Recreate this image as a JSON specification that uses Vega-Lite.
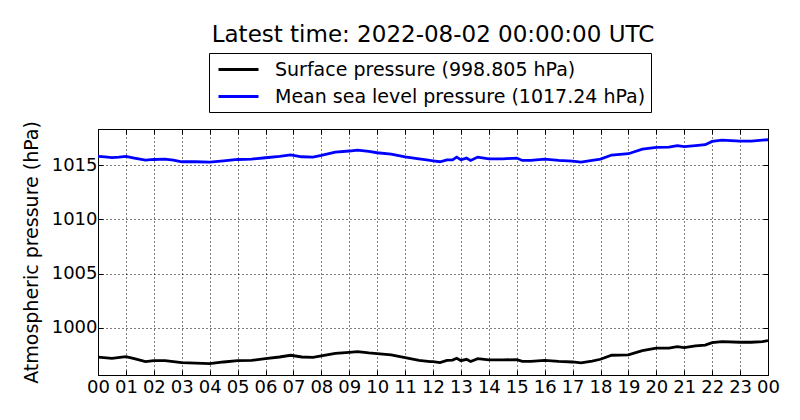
{
  "$schema": "https://vega.github.io/schema/vega-lite/v6.json",
  "autosize": {"type": "none"},
  "padding": {"left": 98, "top": 129, "right": 32, "bottom": 45},
  "width": 670,
  "height": 246,
  "background": "white",
  "title": {
    "text": "Latest time: 2022-08-02 00:00:00 UTC",
    "font": "DejaVu Sans",
    "fontSize": 23,
    "fontWeight": "normal",
    "color": "black",
    "anchor": "middle",
    "offset": 6
  },
  "config": {
    "view": {"stroke": "black", "strokeWidth": 1},
    "axis": {
      "labelFont": "DejaVu Sans",
      "labelFontSize": 18,
      "labelColor": "black",
      "titleFont": "DejaVu Sans",
      "titleFontSize": 19,
      "titleFontWeight": "normal",
      "titleColor": "black",
      "domainColor": "black",
      "tickColor": "black",
      "tickSize": -5,
      "gridColor": "black",
      "gridOpacity": 1,
      "gridDash": [1, 3],
      "gridWidth": 1
    }
  },
  "data": {
    "values": [
      {"h": 0, "s": "msl", "p": 1015.80},
      {"h": 0.25, "s": "msl", "p": 1015.76},
      {"h": 0.5, "s": "msl", "p": 1015.70},
      {"h": 0.75, "s": "msl", "p": 1015.74},
      {"h": 1.0, "s": "msl", "p": 1015.80},
      {"h": 1.3, "s": "msl", "p": 1015.65},
      {"h": 1.7, "s": "msl", "p": 1015.46},
      {"h": 2.0, "s": "msl", "p": 1015.52},
      {"h": 2.4, "s": "msl", "p": 1015.55},
      {"h": 2.7, "s": "msl", "p": 1015.46},
      {"h": 3.0, "s": "msl", "p": 1015.31},
      {"h": 3.5, "s": "msl", "p": 1015.31},
      {"h": 4.0, "s": "msl", "p": 1015.28},
      {"h": 4.5, "s": "msl", "p": 1015.40},
      {"h": 5.0, "s": "msl", "p": 1015.52},
      {"h": 5.5, "s": "msl", "p": 1015.55},
      {"h": 6.0, "s": "msl", "p": 1015.68},
      {"h": 6.5, "s": "msl", "p": 1015.80},
      {"h": 6.9, "s": "msl", "p": 1015.95},
      {"h": 7.3, "s": "msl", "p": 1015.77},
      {"h": 7.7, "s": "msl", "p": 1015.74},
      {"h": 8.0, "s": "msl", "p": 1015.89},
      {"h": 8.5, "s": "msl", "p": 1016.20},
      {"h": 9.0, "s": "msl", "p": 1016.30},
      {"h": 9.3, "s": "msl", "p": 1016.39},
      {"h": 9.7, "s": "msl", "p": 1016.27},
      {"h": 10.0, "s": "msl", "p": 1016.14},
      {"h": 10.5, "s": "msl", "p": 1016.02},
      {"h": 11.0, "s": "msl", "p": 1015.77},
      {"h": 11.5, "s": "msl", "p": 1015.58},
      {"h": 11.9, "s": "msl", "p": 1015.43},
      {"h": 12.0, "s": "msl", "p": 1015.40},
      {"h": 12.25, "s": "msl", "p": 1015.31},
      {"h": 12.5, "s": "msl", "p": 1015.49},
      {"h": 12.7, "s": "msl", "p": 1015.49},
      {"h": 12.85, "s": "msl", "p": 1015.74},
      {"h": 13.0, "s": "msl", "p": 1015.49},
      {"h": 13.2, "s": "msl", "p": 1015.65},
      {"h": 13.35, "s": "msl", "p": 1015.43},
      {"h": 13.6, "s": "msl", "p": 1015.74},
      {"h": 14.0, "s": "msl", "p": 1015.58},
      {"h": 14.5, "s": "msl", "p": 1015.58},
      {"h": 15.0, "s": "msl", "p": 1015.65},
      {"h": 15.2, "s": "msl", "p": 1015.43},
      {"h": 15.5, "s": "msl", "p": 1015.43},
      {"h": 16.0, "s": "msl", "p": 1015.55},
      {"h": 16.5, "s": "msl", "p": 1015.43},
      {"h": 17.0, "s": "msl", "p": 1015.37},
      {"h": 17.3, "s": "msl", "p": 1015.28},
      {"h": 17.7, "s": "msl", "p": 1015.43},
      {"h": 18.0, "s": "msl", "p": 1015.55},
      {"h": 18.4, "s": "msl", "p": 1015.93},
      {"h": 19.0, "s": "msl", "p": 1016.05},
      {"h": 19.5, "s": "msl", "p": 1016.48},
      {"h": 20.0, "s": "msl", "p": 1016.63},
      {"h": 20.45, "s": "msl", "p": 1016.65},
      {"h": 20.75, "s": "msl", "p": 1016.79},
      {"h": 21.0, "s": "msl", "p": 1016.70},
      {"h": 21.4, "s": "msl", "p": 1016.80},
      {"h": 21.75, "s": "msl", "p": 1016.88},
      {"h": 22.0, "s": "msl", "p": 1017.19},
      {"h": 22.35, "s": "msl", "p": 1017.31},
      {"h": 23.0, "s": "msl", "p": 1017.22},
      {"h": 23.4, "s": "msl", "p": 1017.22},
      {"h": 23.8, "s": "msl", "p": 1017.31},
      {"h": 24.0, "s": "msl", "p": 1017.34},
      {"h": 0, "s": "surface", "p": 997.29},
      {"h": 0.5, "s": "surface", "p": 997.19},
      {"h": 1.0, "s": "surface", "p": 997.34},
      {"h": 1.3, "s": "surface", "p": 997.16},
      {"h": 1.7, "s": "surface", "p": 996.88},
      {"h": 2.0, "s": "surface", "p": 996.97},
      {"h": 2.4, "s": "surface", "p": 996.97},
      {"h": 2.7, "s": "surface", "p": 996.88},
      {"h": 3.0, "s": "surface", "p": 996.79},
      {"h": 3.5, "s": "surface", "p": 996.75},
      {"h": 4.0, "s": "surface", "p": 996.70},
      {"h": 4.5, "s": "surface", "p": 996.85},
      {"h": 5.0, "s": "surface", "p": 996.97},
      {"h": 5.5, "s": "surface", "p": 997.00},
      {"h": 6.0, "s": "surface", "p": 997.16},
      {"h": 6.5, "s": "surface", "p": 997.31},
      {"h": 6.9, "s": "surface", "p": 997.47},
      {"h": 7.3, "s": "surface", "p": 997.31},
      {"h": 7.7, "s": "surface", "p": 997.28},
      {"h": 8.0, "s": "surface", "p": 997.41},
      {"h": 8.5, "s": "surface", "p": 997.65},
      {"h": 9.0, "s": "surface", "p": 997.74},
      {"h": 9.3, "s": "surface", "p": 997.81},
      {"h": 9.7, "s": "surface", "p": 997.68},
      {"h": 10.0, "s": "surface", "p": 997.62},
      {"h": 10.5, "s": "surface", "p": 997.50},
      {"h": 11.0, "s": "surface", "p": 997.25},
      {"h": 11.5, "s": "surface", "p": 996.99},
      {"h": 11.9, "s": "surface", "p": 996.88},
      {"h": 12.0, "s": "surface", "p": 996.88},
      {"h": 12.25, "s": "surface", "p": 996.79},
      {"h": 12.5, "s": "surface", "p": 997.00},
      {"h": 12.7, "s": "surface", "p": 997.02},
      {"h": 12.85, "s": "surface", "p": 997.19},
      {"h": 13.0, "s": "surface", "p": 996.97},
      {"h": 13.2, "s": "surface", "p": 997.10},
      {"h": 13.35, "s": "surface", "p": 996.90},
      {"h": 13.6, "s": "surface", "p": 997.16},
      {"h": 14.0, "s": "surface", "p": 997.04},
      {"h": 14.5, "s": "surface", "p": 997.04},
      {"h": 15.0, "s": "surface", "p": 997.07},
      {"h": 15.2, "s": "surface", "p": 996.90},
      {"h": 15.5, "s": "surface", "p": 996.90},
      {"h": 16.0, "s": "surface", "p": 997.00},
      {"h": 16.5, "s": "surface", "p": 996.90},
      {"h": 17.0, "s": "surface", "p": 996.85},
      {"h": 17.3, "s": "surface", "p": 996.76},
      {"h": 17.7, "s": "surface", "p": 996.94},
      {"h": 18.0, "s": "surface", "p": 997.10},
      {"h": 18.4, "s": "surface", "p": 997.47},
      {"h": 19.0, "s": "surface", "p": 997.50},
      {"h": 19.5, "s": "surface", "p": 997.90},
      {"h": 20.0, "s": "surface", "p": 998.12},
      {"h": 20.45, "s": "surface", "p": 998.12},
      {"h": 20.75, "s": "surface", "p": 998.27},
      {"h": 21.0, "s": "surface", "p": 998.18},
      {"h": 21.4, "s": "surface", "p": 998.33},
      {"h": 21.75, "s": "surface", "p": 998.40},
      {"h": 22.0, "s": "surface", "p": 998.64},
      {"h": 22.35, "s": "surface", "p": 998.73},
      {"h": 23.0, "s": "surface", "p": 998.67},
      {"h": 23.4, "s": "surface", "p": 998.67},
      {"h": 23.8, "s": "surface", "p": 998.73},
      {"h": 24.0, "s": "surface", "p": 998.82}
    ]
  },
  "layer": [
    {
      "mark": {"type": "line", "strokeWidth": 2.8, "clip": true},
      "encoding": {
        "x": {
          "field": "h",
          "type": "quantitative",
          "scale": {"domain": [0, 24], "nice": false},
          "axis": {
            "orient": "bottom",
            "title": null,
            "values": [0, 1, 2, 3, 4, 5, 6, 7, 8, 9, 10, 11, 12, 13, 14, 15, 16, 17, 18, 19, 20, 21, 22, 23, 24],
            "labelExpr": "format(datum.value % 24, '02d')",
            "labelPadding": 8,
            "labelFlush": false,
            "labelOverlap": false
          }
        },
        "y": {
          "field": "p",
          "type": "quantitative",
          "scale": {"domain": [995.65, 1018.33], "nice": false, "zero": false},
          "axis": {
            "orient": "left",
            "title": "Atmospheric pressure (hPa)",
            "format": "d",
            "values": [1000, 1005, 1010, 1015],
            "labelPadding": 6,
            "titlePadding": 10
          }
        },
        "color": {
          "field": "s",
          "type": "nominal",
          "scale": {"domain": ["surface", "msl"], "range": ["black", "blue"]},
          "legend": {
            "orient": "none",
            "legendX": 111,
            "legendY": -76,
            "direction": "vertical",
            "title": null,
            "labelExpr": "datum.value == 'surface' ? 'Surface pressure (998.805 hPa)' : 'Mean sea level pressure (1017.24 hPa)'",
            "labelFont": "DejaVu Sans",
            "labelFontSize": 19,
            "labelColor": "black",
            "labelLimit": 0,
            "labelOffset": 25,
            "symbolType": "M-2,0L2,0",
            "symbolSize": 400,
            "symbolOffset": 13,
            "symbolStrokeWidth": 2.8,
            "strokeColor": "black",
            "fillColor": "white",
            "padding": 5,
            "rowPadding": 5
          }
        }
      }
    },
    {
      "mark": {"type": "line", "strokeOpacity": 0},
      "encoding": {
        "x": {
          "field": "h",
          "type": "quantitative",
          "axis": {
            "orient": "top",
            "title": null,
            "labels": false,
            "grid": false,
            "values": [0, 1, 2, 3, 4, 5, 6, 7, 8, 9, 10, 11, 12, 13, 14, 15, 16, 17, 18, 19, 20, 21, 22, 23, 24]
          }
        },
        "y": {
          "field": "p",
          "type": "quantitative",
          "axis": {
            "orient": "right",
            "title": null,
            "labels": false,
            "grid": false,
            "values": [1000, 1005, 1010, 1015]
          }
        },
        "detail": {"field": "s"}
      }
    }
  ],
  "resolve": {"axis": {"x": "independent", "y": "independent"}}
}
